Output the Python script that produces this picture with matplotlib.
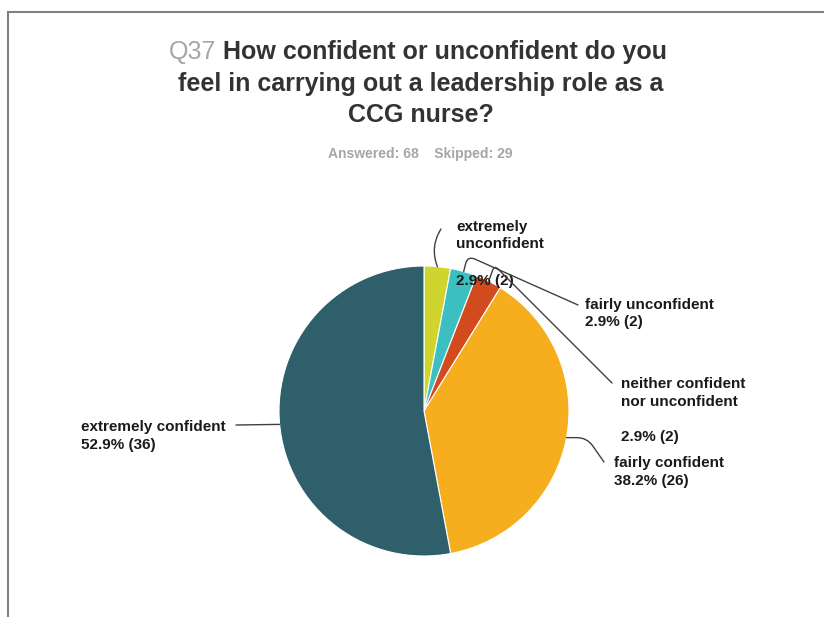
import matplotlib.pyplot as plt
import numpy as np

plt.rcParams['font.family'] = ['Liberation Sans', 'DejaVu Sans']

# survey answers, clockwise from 12 o'clock
answers = ["extremely unconfident", "fairly unconfident", "neither confident nor unconfident",
           "fairly confident", "extremely confident"]
counts = [2, 2, 2, 26, 36]
percents = ["2.9%", "2.9%", "2.9%", "38.2%", "52.9%"]
colors = ["#cfd52d", "#3bbfc1", "#d14b1e", "#f6ae1f", "#2f5f6b"]

W, H = 824, 617
fig = plt.figure(figsize=(W / 100, H / 100), dpi=100)
ax = fig.add_axes([0, 0, 1, 1])

def py(y):
    # pixel row (from the top) to data y
    return H - y

# frame lines at top and left
ax.plot([8, W], [py(12), py(12)], color='#808080', lw=1.5)
ax.plot([8, 8], [py(12), 0], color='#808080', lw=1.5)

cx, cy, r = 424, py(411), 145
ax.pie(counts, colors=colors, startangle=90, counterclock=False, center=(cx, cy), radius=r,
       wedgeprops=dict(linewidth=0.8, edgecolor='white'), frame=True)
ax.set_xlim(0, W)
ax.set_ylim(0, H)
ax.set_aspect('equal')
ax.axis('off')

# anchor points on the rim at each wedge's middle angle
fracs = np.array(counts) / sum(counts)
mids = 90 - 360 * (np.cumsum(fracs) - fracs / 2)
anchors = [(cx + r * np.cos(np.radians(a)), cy + r * np.sin(np.radians(a))) for a in mids]

tstyle = dict(fontsize=11, fontweight='bold', color='#1a1a1a', va='center', ha='left', linespacing=1.28)
line = dict(arrowstyle='-', color='#404040', lw=1.0, shrinkA=0, shrinkB=0)

# extremely unconfident
ax.annotate('', xy=anchors[0], xytext=(441, py(229)),
            arrowprops=dict(line, connectionstyle="arc3,rad=0.25"))
ax.text(456, py(235.5), "extremely\nunconfident", **tstyle)
ax.text(456, py(281), percents[0] + " (%d)" % counts[0], **tstyle)

# fairly unconfident
ax.annotate('', xy=anchors[1], xytext=(578, py(305)),
            arrowprops=dict(line, connectionstyle="angle,angleA=156,angleB=76,rad=8"))
ax.text(585, py(313.5), "fairly unconfident\n" + percents[1] + " (%d)" % counts[1], **tstyle)

# neither confident nor unconfident
ax.annotate('', xy=anchors[2], xytext=(612, py(383)),
            arrowprops=dict(line, connectionstyle="angle,angleA=135,angleB=70,rad=5"))
ax.text(621, py(393), "neither confident\nnor unconfident", **tstyle)
ax.text(621, py(437), percents[2] + " (%d)" % counts[2], **tstyle)

# fairly confident
ax.annotate('', xy=anchors[3], xytext=(604, py(462)),
            arrowprops=dict(line, connectionstyle="angle,angleA=125,angleB=0,rad=10"))
ax.text(614, py(472), "fairly confident\n" + percents[3] + " (%d)" % counts[3], **tstyle)

# extremely confident
ax.annotate('', xy=anchors[4], xytext=(236, py(425)),
            arrowprops=dict(line, connectionstyle="arc3,rad=0"))
ax.text(81, py(436), "extremely confident\n" + percents[4] + " (%d)" % counts[4], **tstyle)

# title
tkw = dict(fontsize=18, color='#333333', va='center')
ax.text(216, py(52), "Q37", ha='right', color='#a6a6a6', fontsize=18, va='center')
ax.text(223, py(52), "How confident or unconfident do you", ha='left', fontweight='bold', **tkw)
ax.text(421, py(84), "feel in carrying out a leadership role as a", ha='center', fontweight='bold', **tkw)
ax.text(421, py(115), "CCG nurse?", ha='center', fontweight='bold', **tkw)
ax.text(420, py(154), "Answered: 68    Skipped: 29", ha='center', va='center',
        fontsize=10, fontweight='bold', color='#a6a6a6')

fig.savefig('out.png', dpi=100)
